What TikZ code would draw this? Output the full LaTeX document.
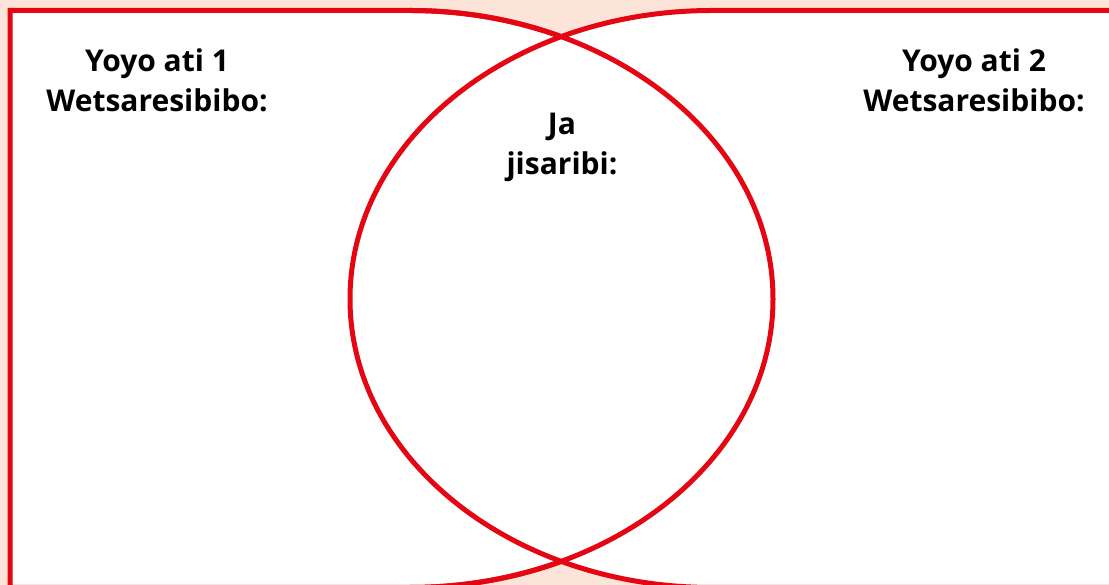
\documentclass[tikz,border=0pt]{standalone}
\usepackage{fontspec}
\setmainfont{Open Sans}
\usepackage{tikz}
\usetikzlibrary{positioning}
\definecolor{vRed}{RGB}{228,6,19}
\definecolor{vPeach}{RGB}{252,228,216}
\tikzset{
    vshape/.style={draw=vRed, line width=5pt, fill=white},
    vlabel/.style={align=center, inner sep=0pt, font=\fontsize{30}{40}\selectfont\bfseries}
}

\begin{document}
\begin{tikzpicture}[x=1pt, y=1pt]
    \clip (0,0) rectangle (1109,585);
    \fill[vPeach] (0,0) rectangle (1109,585);

    \path[vshape] (10,-20) -- (10,574.5) -- (410,574.5)
        arc[start angle=90, end angle=-90, x radius=363, y radius=288.5]
        -- (10,-2.5) -- cycle;
    \path[vshape] (1130,574.5) -- (712,574.5)
        arc[start angle=90, end angle=270, x radius=362, y radius=288.5]
        -- (1130,-2.5) -- cycle;
    \draw[draw=vRed, line width=5pt] (410,574.5)
        arc[start angle=90, end angle=-90, x radius=363, y radius=288.5];

    \node[vlabel, anchor=north] (set1) at (157,536) {Yoyo ati 1\\Wetsaresibibo:};
    \node[vlabel, anchor=north] (set2) at (974,536) {Yoyo ati 2\\Wetsaresibibo:};
    \node[vlabel, anchor=north] (both) at (562,472) {Ja\\jisaribi:};
\end{tikzpicture}
\end{document}
